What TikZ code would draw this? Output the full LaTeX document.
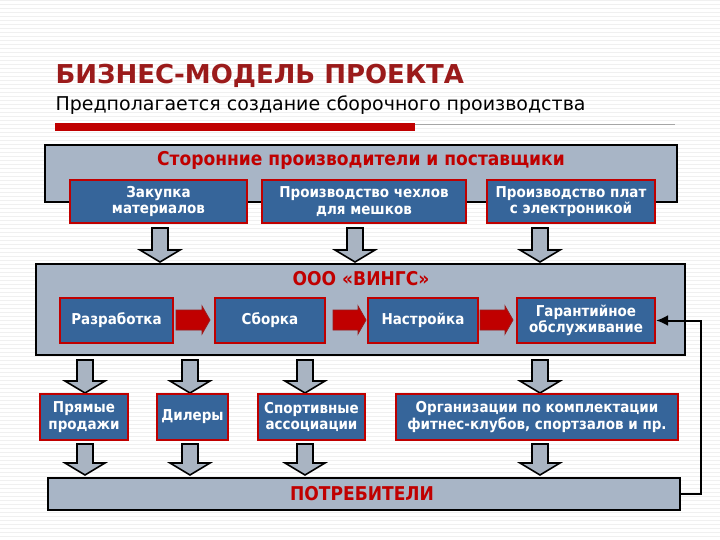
\documentclass[tikz,border=0pt]{standalone}
\usepackage{fontspec}
\setmainfont{DejaVu Sans}
\newfontfamily\condf{DejaVu Sans Condensed}
\usepackage{tikz}
\usetikzlibrary{positioning,arrows.meta}

\definecolor{boxblue}{HTML}{36659A}
\definecolor{boxred}{HTML}{C00000}
\definecolor{panel}{HTML}{A8B5C6}
\definecolor{titlered}{HTML}{9B1B1B}
\definecolor{arrgray}{HTML}{A9B4C2}

\tikzset{
  panel/.style={draw=black, line width=2pt, fill=panel},
  inner/.style={draw=boxred, line width=2.2pt, fill=boxblue, text=white, font=\condf\bfseries\fontsize{15}{16.5}\selectfont, align=center, inner sep=0pt},
  head/.style={text=boxred, font=\condf\bfseries\fontsize{19}{20}\selectfont},
  blk/.style={draw=black, line width=1.6pt, fill=arrgray},
  redarr/.style={draw=titlered, line width=0.8pt, fill=boxred},
}
% block arrow pointing down: centre x, top y, bottom y
\newcommand{\blkdown}[3]{
  \filldraw[blk] (#1-8,#2) -- (#1+8,#2) -- (#1+8,#3-12) -- (#1+20,#3-12) -- (#1,#3)
    -- (#1-20,#3-12) -- (#1-8,#3-12) -- cycle;}
% red arrow pointing right: left x, right x, centre y
\newcommand{\redright}[3]{
  \filldraw[redarr] (#1,#3-10) -- (#2-8,#3-10) -- (#2-8,#3-14) -- (#2,#3) -- (#2-8,#3+14)
    -- (#2-8,#3+10) -- (#1,#3+10) -- cycle;}

\begin{document}
\begin{tikzpicture}[x=1pt, y=-1pt]
\useasboundingbox (0,0) rectangle (720,540);
% background stripes
\foreach \y in {0,4,...,540} \draw[black!6, line width=0.4pt] (0,\y) -- (720,\y);

% title
\node[anchor=west, text=titlered, font=\bfseries\fontsize{26}{28}\selectfont] (title) at (52,76) {БИЗНЕС-МОДЕЛЬ ПРОЕКТА};
\node[anchor=west, font=\fontsize{19}{21}\selectfont] (sub) at (52,105) {Предполагается создание сборочного производства};
\fill[boxred] (55,123) rectangle (415,131);
\draw[black!35, line width=0.8pt] (415,124) -- (675,124);

% suppliers
\draw[panel] (45,145) rectangle (677,202);
\node[head] (supp) at (361,160) {Сторонние производители и поставщики};
\node[inner, minimum width=177pt, minimum height=43pt] (buy) at (158.5,201.5) {Закупка\\материалов};
\node[inner, minimum width=204pt, minimum height=43pt] (cov) at (364,201.5) {Производство чехлов\\для мешков};
\node[inner, minimum width=168pt, minimum height=43pt] (pcb) at (571,201.5) {Производство плат\\с электроникой};
\blkdown{160}{228}{262}
\blkdown{355}{228}{262}
\blkdown{540}{228}{262}

% company
\draw[panel] (36,264) rectangle (685,355);
\node[head] (firm) at (361,279) {ООО «ВИНГС»};
\node[inner, minimum width=113pt, minimum height=45pt] (dev) at (116.5,320.5) {Разработка};
\node[inner, minimum width=110pt, minimum height=45pt] (asm) at (270,320.5) {Сборка};
\node[inner, minimum width=110pt, minimum height=45pt] (tune) at (423,320.5) {Настройка};
\node[inner, minimum width=138pt, minimum height=45pt] (serv) at (586,320.5) {Гарантийное\\обслуживание};
\redright{176}{210}{320}
\redright{333}{366}{320}
\redright{480}{513}{320}

% channels
\foreach \x in {85,190,305,540} {\blkdown{\x}{360}{393}}
\node[inner, minimum width=88pt, minimum height=46pt] (direct) at (84,417) {Прямые\\продажи};
\node[inner, minimum width=71pt, minimum height=46pt] (deal) at (192.5,417) {Дилеры};
\node[inner, minimum width=107pt, minimum height=46pt] (sport) at (311.5,417) {Спортивные\\ассоциации};
\node[inner, minimum width=282pt, minimum height=46pt] (org) at (537,417) {Организации по комплектации\\фитнес-клубов, спортзалов и пр.};
\foreach \x in {85,190,305,540} {\blkdown{\x}{444}{475}}

% consumers
\draw[panel] (48,478) rectangle (680,510);
\node[head] (cons) at (362,494) {ПОТРЕБИТЕЛИ};
\coordinate (fbr) at (680,494);
\draw[line width=2pt, -{Latex[length=12pt,width=11pt]}] (fbr) -- (701,494) |- (serv.east);
\end{tikzpicture}
\end{document}
